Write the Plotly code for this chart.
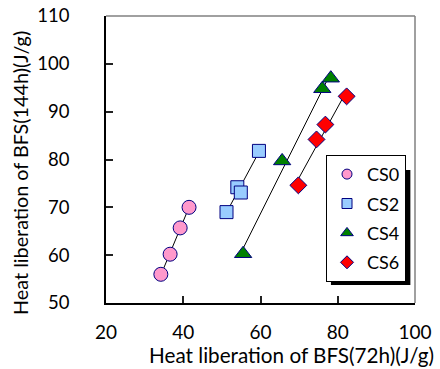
import plotly.graph_objects as go
import numpy as np

# ---- data ----
series_names = ["CS0", "CS2", "CS4", "CS6"]
cs0_x = [34.2, 36.6, 39.2, 41.5]
cs0_y = [56.0, 60.2, 65.7, 70.0]
cs2_x = [51.2, 54.0, 54.9, 59.6]
cs2_y = [69.0, 74.2, 73.1, 81.8]
cs4_x = [55.5, 65.6, 76.0, 78.2]
cs4_y = [60.3, 79.7, 94.8, 97.0]
cs6_x = [69.8, 74.5, 76.8, 82.3]
cs6_y = [74.6, 84.2, 87.3, 93.2]
x_ticks = [20, 40, 60, 80, 100]
y_ticks = [50, 60, 70, 80, 90, 100, 110]

xs = [cs0_x, cs2_x, cs4_x, cs6_x]
ys = [cs0_y, cs2_y, cs4_y, cs6_y]
symbols = ["circle", "square", "triangle-up", "diamond"]
colors = ["#FF99CC", "#99CCFF", "#008000", "#FF0000"]
sizes = [14, 13, 15, 13]
leg_sizes = [10, 10, 11, 10]

FONT = "Lato"
fig = go.Figure()

# trend lines
for x, y in zip(xs, ys):
    a, b = np.polyfit(x, y, 1)
    lx = np.array([min(x), max(x)])
    fig.add_trace(go.Scatter(x=lx, y=a * lx + b, mode="lines",
                             line=dict(color="black", width=1),
                             showlegend=False, hoverinfo="skip"))

# markers
for name, x, y, s, c, sz in zip(series_names, xs, ys, symbols, colors, sizes):
    fig.add_trace(go.Scatter(x=x, y=y, mode="markers", name=name,
                             marker=dict(symbol=s, color=c, size=sz,
                                         line=dict(color="#000080", width=1)),
                             showlegend=False))

# legend-only entries (smaller symbols)
for name, s, c, sz in zip(series_names, symbols, colors, leg_sizes):
    fig.add_trace(go.Scatter(x=[None], y=[None], mode="markers", name=name,
                             legendgroup=name,
                             marker=dict(symbol=s, color=c, size=sz,
                                         line=dict(color="#000080", width=1))))

axis_common = dict(showgrid=False, zeroline=False, showline=True,
                   linecolor="black", linewidth=1.5, ticks="inside",
                   ticklen=7, tickwidth=1.5, tickcolor="#222222",
                   automargin=False)

fig.update_xaxes(range=[20, 100], tickvals=x_ticks, ticklabelstandoff=11,
                 tickfont=dict(family=FONT, size=19, color="black"),
                 **axis_common)
fig.update_yaxes(range=[50, 110], tickvals=y_ticks, ticklabelstandoff=31,
                 tickfont=dict(family=FONT, size=18.5, color="black"),
                 **axis_common)

fig.update_layout(
    width=440, height=369,
    margin=dict(l=106, r=25, t=16, b=66, autoexpand=False),
    plot_bgcolor="white", paper_bgcolor="white",
    showlegend=True,
    legend=dict(x=0.712, y=0.516, xanchor="left", yanchor="top",
                bgcolor="white", bordercolor="black", borderwidth=1,
                font=dict(family=FONT, size=18, color="black"),
                traceorder="grouped", tracegroupgap=3,
                itemwidth=30),
    shapes=[
        # gray top/right frame
        dict(type="line", xref="paper", yref="paper", x0=0, x1=1, y0=1, y1=1,
             line=dict(color="#808080", width=1.5)),
        dict(type="line", xref="paper", yref="paper", x0=1, x1=1, y0=0, y1=1,
             line=dict(color="#808080", width=1.5)),
        # legend shadow
        dict(type="rect", xref="paper", yref="paper",
             x0=0.728, x1=0.985, y0=0.063, y1=0.463,
             fillcolor="black", line=dict(width=0), layer="above"),
    ],
    annotations=[
        dict(text="Heat liberation of BFS(72h)(J/g)", xref="paper", yref="paper",
             x=0.599, y=0, yshift=-52, xanchor="center", yanchor="middle",
             showarrow=False, font=dict(family=FONT, size=20.7, color="black")),
        dict(text="Heat liberation of BFS(144h)(J/g)", xref="paper", yref="paper",
             x=0, xshift=-86, y=0.481, yshift=-8, textangle=-90, xanchor="center",
             yanchor="middle", showarrow=False,
             font=dict(family=FONT, size=19.8, color="black")),
    ],
)

fig.write_html("out.html")
